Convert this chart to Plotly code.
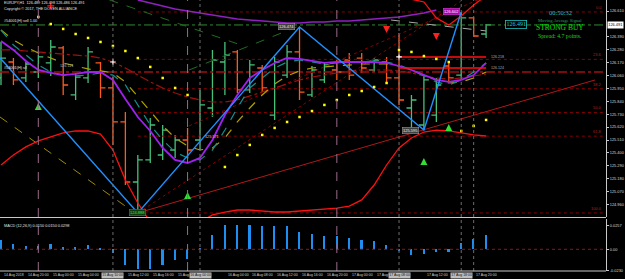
import plotly.graph_objects as go

# ---------------- data ----------------
bar_idx = list(range(40))
open_ = [126.039,126.175,126.039,126.090,126.167,126.295,125.894,126.039,126.167,125.954,
         125.664,125.152,125.340,125.382,125.425,125.510,125.510,125.783,126.175,126.261,
         125.937,126.124,125.723,126.064,126.261,125.894,126.022,126.107,126.192,126.209,
         126.107,126.175,126.039,125.783,125.638,125.723,126.141,126.064,126.551,126.414]
high_ = [126.346,126.209,126.175,126.235,126.363,126.312,126.082,126.303,126.175,126.047,
         125.749,125.382,125.698,125.638,125.553,125.613,125.937,126.278,126.346,126.278,
         126.192,126.150,126.218,126.320,126.474,126.141,126.175,126.192,126.252,126.252,
         126.209,126.218,126.423,125.894,126.064,126.039,126.175,126.602,126.559,126.499]
low_ = [125.979,125.979,126.005,126.039,126.056,125.894,125.851,125.996,125.868,125.468,
        125.126,124.888,125.314,125.340,125.357,125.357,125.425,125.706,125.894,125.911,
        125.911,125.919,125.681,126.039,125.851,125.877,125.996,126.022,126.022,126.082,
        126.090,125.996,125.809,125.613,125.595,125.664,126.005,126.022,126.388,126.380]
close_ = [126.209,126.022,126.158,126.218,126.303,125.979,126.047,126.261,125.954,125.664,
          125.152,125.340,125.638,125.595,125.510,125.425,125.809,126.192,126.235,125.937,
          126.150,125.954,126.175,126.261,125.919,126.107,126.150,126.090,126.064,126.124,
          126.192,126.039,125.851,125.851,126.022,125.979,126.039,126.551,126.397,126.491]

macd_hist = [0.0096,0.0054,0.0032,0.0032,0.0054,0.0021,0.0021,0.0043,0.0011,-0.0043,
             -0.0171,-0.0214,-0.0214,-0.0171,-0.0118,-0.0107,0.0005,0.0150,0.0257,0.0257,
             0.0257,0.0246,0.0246,0.0246,0.0182,0.0161,0.0139,0.0139,0.0118,0.0096,
             0.0086,0.0043,-0.0011,-0.0064,-0.0054,-0.0032,-0.0032,0.0064,0.0107,0.0150]

ma_purple = [126.354,126.278,126.184,126.107,126.082,126.064,126.073,126.090,126.090,126.022,
             125.860,125.706,125.587,125.442,125.340,125.314,125.357,125.510,125.723,125.894,
             126.039,126.107,126.167,126.209,126.201,126.184,126.167,126.175,126.175,126.175,
             126.175,126.167,126.141,126.107,126.064,126.022,126.005,126.022,126.064,126.167]
ma_teal = [126.448,126.320,126.235,126.150,126.090,126.064,126.056,126.064,126.082,126.064,
           125.979,125.809,125.638,125.510,125.408,125.357,125.340,125.425,125.595,125.783,
           125.954,126.039,126.124,126.175,126.192,126.175,126.158,126.167,126.175,126.175,
           126.184,126.175,126.150,126.107,126.056,126.005,125.979,126.022,126.090,126.167]
ma_olive = [126.448,126.363,126.303,126.252,126.209,126.167,126.141,126.116,126.099,126.082,
            126.005,125.877,125.749,125.630,125.527,125.459,125.425,125.442,125.527,125.664,
            125.783,125.894,125.988,126.056,126.099,126.124,126.133,126.141,126.150,126.158,
            126.158,126.158,126.141,126.107,126.064,126.022,125.996,126.005,126.039,126.090]
band_mid = [126.278,126.278,126.269,126.261,126.252,126.244,126.235,126.226,126.209,126.175,
            126.124,126.064,126.005,125.954,125.911,125.877,125.851,125.834,125.834,125.851,
            125.885,125.919,125.954,125.988,126.022,126.047,126.064,126.082,126.099,126.107,
            126.107,126.107,126.099,126.082,126.056,126.039,126.030,126.039,126.056,126.073]
band_upper = [126.76,126.76,126.75,126.75,126.76,126.76,126.76,126.76,126.77,126.80,
              126.85,126.90,126.95,126.98,126.99,126.98,126.96,126.93,126.90,126.88,
              126.86,126.84,126.82,126.80,126.78,126.77,126.76,126.76,126.75,126.75,
              126.74,126.73,126.72,126.71,126.687,126.551,126.491,126.568,126.661,126.74]
band_lower = [125.297,125.382,125.451,125.502,125.536,125.570,125.587,125.587,125.561,125.425,
              125.169,124.973,124.811,124.743,124.726,124.760,124.811,124.871,124.896,124.913,
              124.913,124.905,124.896,124.896,124.905,124.913,124.922,124.930,124.947,124.999,
              125.126,125.297,125.442,125.527,125.578,125.595,125.587,125.570,125.553,125.544]
top_purple_bars = list(range(11, 36))
top_purple = [126.704,126.678,126.653,126.627,126.610,126.593,126.576,126.559,126.542,126.533,
              126.525,126.516,126.508,126.508,126.516,126.516,126.525,126.525,126.533,126.542,
              126.551,126.559,126.576,126.593,126.619]

psar_bars = [3,4,5,6,7,8,9,10,11,12,13,14,15,
             18,19,20,21,22,23,24,25,26,27,28,29,30,31,
             32,33,34,35,36,37,38,39]
psar_vals = [126.559,126.499,126.457,126.414,126.380,126.346,126.312,126.269,126.209,126.133,126.039,125.954,125.894,
             125.280,125.382,125.468,125.553,125.613,125.664,125.706,125.757,125.809,125.851,125.894,125.928,125.962,125.996,
             126.278,126.261,126.226,126.201,126.175,125.587,125.630,125.681]

zigzag_bars = [-1, 11, 24, 34, 37]
zigzag_vals = [126.320, 124.888, 126.474, 125.595, 126.602]
fib_ratios = [0.0, 23.6, 38.2, 50.0, 61.8, 100.0]

up_arrow_bars = [3, 15, 34, 36]
up_arrow_vals = [125.825, 125.067, 125.357, 125.647]
down_arrow_bars = [31, 35]
down_arrow_vals = [126.423, 126.363]
order_mark_bars = [9, 32]
order_mark_vals = [126.175, 126.218]
cursor_mark_bar = [4]
cursor_mark_val = [126.653]

level_lines = [126.218, 126.124]        # red horizontal segments, bars 32..39
order_buy_level = 126.491
order_sl_level = 126.090

day_sep_bars = [3, 15, 27]
vline_bars = [9, 16, 32, 37, 38]
vline_box_bars = [9, 16, 32, 37]
vline_box_text = ["15 Aug 10:00", "16 Aug 00:00", "17 Aug 08:00", "17 Aug 18:00"]

time_label_bars = [0, 2, 4, 6, 10, 12, 14, 18, 20, 22, 24, 26, 28, 30, 34, 38]
time_labels = ["14 Aug 2018", "14 Aug 20:00", "15 Aug 00:00", "15 Aug 04:00",
               "15 Aug 12:00", "15 Aug 16:00", "15 Aug 20:00", "16 Aug 04:00",
               "16 Aug 08:00", "16 Aug 12:00", "16 Aug 16:00", "16 Aug 20:00", "17 Aug 00:00",
               "17 Aug 04:00", "17 Aug 12:00", "17 Aug 20:00"]
price_ticks = [126.610, 126.390, 126.280, 126.170, 126.060, 125.950, 125.840, 125.730,
               125.620, 125.510, 125.400, 125.290, 125.180, 125.070, 124.960, 124.850]
price_tick_text = ["126.610", "126.390", "126.280", "126.170", "126.060", "125.950",
                   "125.840", "125.730", "125.620", "125.510", "125.400", "125.290", "125.180",
                   "125.070", "124.960", "124.850"]
macd_ticks = [0.0257, 0.0, -0.0230]
macd_tick_text = ["0.0257", "0.00", "-0.0230"]

# ---------------- figure ----------------
XR = [-0.08, 48.64]
YR = [124.8536, 126.7038]
MR = [-0.0232, 0.0324]
MAIN_DOM = [0.1993, 1.0]
MACD_DOM = [0.0, 0.1919]
XEND = 48.64

fig = go.Figure()

def line(x, y, color, width=1, dash="solid", yaxis="y", xaxis="x"):
    fig.add_trace(go.Scatter(x=x, y=y, mode="lines", xaxis=xaxis, yaxis=yaxis,
                             line=dict(color=color, width=width, dash=dash),
                             hoverinfo="skip", showlegend=False))

# horizontal order lines
line([XR[0], XEND], [order_buy_level]*2, "#2E8B2E", 1, "dashdot")
line([XR[0], XEND], [order_sl_level]*2, "#A01010", 1.3, "dashdot")

# fibonacci levels
zz_hi, zz_lo = zigzag_vals[4], zigzag_vals[1]
for r in fib_ratios:
    lv = zz_hi - r / 100.0 * (zz_hi - zz_lo)
    line([11, XEND], [lv, lv], "#8B0000", 1, "dot")
    fig.add_annotation(x=0.997, xref="paper", y=lv, yref="y", text=f"{r:.1f}",
                       showarrow=False, xanchor="right", yanchor="bottom",
                       font=dict(size=4, color="#B02020", family="Liberation Sans"))

# diagonal trend lines
line([11, 47.76], [zz_lo, 126.022], "#B01818", 1, "solid")
line([11, 37.12], [zz_lo, 126.704], "#8B0000", 1, "dot")
line([15.12, 38.32], [125.630, 126.704], "#8B0000", 1, "dot")
line([-0.08, 10.32], [125.706, 124.922], "#A08A00", 1, "dash")
line([8.72, 19.52], [126.704, 126.312], "#1E6E1E", 1, "dash")
line([15.12, 23.76], [126.107, 126.474], "#1E6E1E", 1, "dash")
line([31.36, 39.0], [126.533, 126.440], "#A8A8A8", 1, "dash")

# bands and moving averages
line(bar_idx, band_upper, "#FF1010", 1.3)
line(bar_idx, band_lower, "#FF1010", 1.3)
line(bar_idx, band_mid, "#A01010", 1.2, "dashdot")
line(bar_idx, ma_olive, "#B0A000", 1.2, "dash")
line(bar_idx, ma_teal, "#109090", 1.2, "dash")
line(bar_idx, ma_purple, "#A020F0", 1.8)
line(top_purple_bars, top_purple, "#9020C0", 1.5)

for lv in level_lines:
    line([32, 39], [lv, lv], "#FF1010", 1.5)

# price bars
fig.add_trace(go.Ohlc(x=bar_idx, open=open_, high=high_, low=low_, close=close_,
                      increasing=dict(line=dict(color="#46C07A", width=1.3)),
                      decreasing=dict(line=dict(color="#FF5A1E", width=1.3)),
                      tickwidth=0.4, hoverinfo="skip", showlegend=False))

# zigzag
line(zigzag_bars, zigzag_vals, "#1E90FF", 1.4)

# parabolic SAR
fig.add_trace(go.Scatter(x=psar_bars, y=psar_vals, mode="markers",
                         marker=dict(color="#FFFF00", size=2.5, symbol="square"),
                         hoverinfo="skip", showlegend=False))
# arrows and order marks
fig.add_trace(go.Scatter(x=up_arrow_bars, y=up_arrow_vals, mode="markers",
                         marker=dict(color="#33DD33", size=7, symbol="arrow-up"),
                         hoverinfo="skip", showlegend=False))
fig.add_trace(go.Scatter(x=down_arrow_bars, y=down_arrow_vals, mode="markers",
                         marker=dict(color="#FF2020", size=7, symbol="arrow-down"),
                         hoverinfo="skip", showlegend=False))
fig.add_trace(go.Scatter(x=order_mark_bars, y=order_mark_vals, mode="markers",
                         marker=dict(color="#FFFFFF", size=4, symbol="cross-thin",
                                     line=dict(color="#FFFFFF", width=1.2)),
                         hoverinfo="skip", showlegend=False))
fig.add_trace(go.Scatter(x=cursor_mark_bar, y=cursor_mark_val, mode="markers",
                         marker=dict(color="#FF2020", size=5, symbol="cross-thin",
                                     line=dict(color="#FF2020", width=1.3)),
                         hoverinfo="skip", showlegend=False))

# MACD panel
fig.add_trace(go.Bar(x=bar_idx, y=macd_hist, xaxis="x2", yaxis="y2", width=0.13,
                     marker=dict(color="#1E8FF0", line=dict(width=0)),
                     hoverinfo="skip", showlegend=False))
line([XR[0], XEND], [0, 0], "#A01010", 1, "dot", yaxis="y2", xaxis="x2")

# vertical separators
shapes = []
for b in day_sep_bars:
    for yr in ["y domain", "y2 domain"]:
        shapes.append(dict(type="line", xref="x", yref=yr, x0=b, x1=b, y0=0, y1=1,
                           line=dict(color="#9A6A8A", width=1, dash="dash")))
for b in vline_bars:
    for yr in ["y domain", "y2 domain"]:
        shapes.append(dict(type="line", xref="x", yref=yr, x0=b, x1=b, y0=0, y1=1,
                           line=dict(color="#6E6E6E", width=1, dash="dot")))
# panel frame
sep_y = (271 - 217.5) / 271
shapes.append(dict(type="line", xref="paper", yref="paper", x0=0, x1=1, y0=sep_y, y1=sep_y,
                   line=dict(color="#C8C8C8", width=1)))
shapes.append(dict(type="line", xref="paper", yref="paper", x0=0, x1=1, y0=0, y1=0,
                   line=dict(color="#C8C8C8", width=1)))
fig.update_layout(shapes=shapes)

# ---------------- texts ----------------
def txt(x, y, s, color, size, xref="paper", yref="paper", xanchor="left", yanchor="middle",
        family="Liberation Sans", **kw):
    fig.add_annotation(x=x, y=y, xref=xref, yref=yref, text=s, showarrow=False,
                       xanchor=xanchor, yanchor=yanchor,
                       font=dict(size=size, color=color, family=family), **kw)

H = 271.0
def py(px):  # pixel row -> paper coordinate
    return 1 - px / H

txt(0.004, py(3), "EURJPY,H1  126.489 126.498 126.486 126.491", "#E0E0E0", 3.8)
txt(0.004, py(9), "Copyright © 2017, THE DOYEN ALLIANCE", "#E0E0E0", 3.8)
txt(0.004, order_buy_level, "#54001(H) sell 1.00", "#E0E0E0", 3.8, yref="y", yanchor="bottom")
txt(0.004, order_sl_level, "#54001(H) s/l", "#E0E0E0", 3.8, yref="y", yanchor="bottom")
txt(4.6, 126.141, "126.121", "#B0B0B0", 3.8, xref="x", yref="y")
txt(16.2, 125.536, "125.571", "#D0D0D0", 3.8, xref="x", yref="y")
txt(39.2, level_lines[0], "126.218", "#B0B0B0", 3.6, xref="x", yref="y")
txt(39.2, level_lines[1], "126.124", "#B0B0B0", 3.6, xref="x", yref="y")

# zigzag value boxes
txt(11, zigzag_vals[1], f"{zigzag_vals[1]:.3f}", "#50E050", 4, xref="x", yref="y",
    xanchor="center", bgcolor="#0E3A0E", bordercolor="#3A9A3A", borderwidth=0.5, borderpad=0.5)
txt(23.6, zigzag_vals[2], f"{zigzag_vals[2]:.3f}", "#F0F0F0", 4, xref="x", yref="y",
    xanchor="right", bgcolor="#404040", bordercolor="#A0A0A0", borderwidth=0.5, borderpad=0.5)
txt(33.6, zigzag_vals[3], f"{zigzag_vals[3]:.3f}", "#F0F0F0", 4, xref="x", yref="y",
    xanchor="right", bgcolor="#404040", bordercolor="#A0A0A0", borderwidth=0.5, borderpad=0.5)
txt(36.9, zigzag_vals[4], f"{zigzag_vals[4]:.3f}", "#FFFFFF", 4, xref="x", yref="y",
    xanchor="right", bgcolor="#B000B0", bordercolor="#E040E0", borderwidth=0.5, borderpad=0.5)

# signal panel
cx = 563 / 609
txt(cx, py(12.5), "00:50:32", "#20C0C0", 6.5, xanchor="center", family="Liberation Serif")
txt(cx, py(20), "Moving Average Signal", "#2EA060", 4.6, xanchor="center", family="Liberation Serif")
txt(cx, py(27.5), "STRONG BUY", "#00E000", 7.5, xanchor="center", family="Liberation Serif")
txt(cx, py(35.5), "Spread: 4.7 points.", "#20D020", 5.8, xanchor="center", family="Liberation Serif")
txt(518.5 / 609, order_buy_level, "126.491", "#20D0D0", 6, yref="y", xanchor="center",
    family="Liberation Serif", bordercolor="#20C0C0", borderwidth=0.8, borderpad=0.6, bgcolor="#000000")

# current price box on the axis
txt(1.002, order_buy_level, "126.491", "#000000", 3.9, yref="y", bgcolor="#FFFFFF", borderpad=0.3)

# MACD title
txt(0.004, 0.180, "MACD (12,26,9) 0.0150 0.0150 0.0298", "#E0E0E0", 3.8, yanchor="top")

# time axis labels
for b, s in zip(time_label_bars, time_labels):
    txt(b + 0.05, -4.2 / H, s, "#D0D0D0", 3.5, xref="x2", xanchor="left")
for b, s in zip(vline_box_bars, vline_box_text):
    txt(b, -4.2 / H, s, "#101010", 3.5, xref="x2", xanchor="center", bgcolor="#BDBDBD",
        borderpad=0.3)

axis_common = dict(showgrid=False, zeroline=False, color="#C8C8C8")
fig.update_layout(
    width=625, height=279,
    margin=dict(l=0, r=16, t=0, b=8),
    paper_bgcolor="#000000", plot_bgcolor="#000000",
    showlegend=False, bargap=0,
    xaxis=dict(domain=[0, 1], range=XR, anchor="y", showticklabels=False, ticks="",
               rangeslider=dict(visible=False), **axis_common),
    xaxis2=dict(domain=[0, 1], range=XR, anchor="y2", matches="x", showticklabels=False,
                ticks="", **axis_common),
    yaxis=dict(domain=MAIN_DOM, range=YR, side="right", tickvals=price_ticks,
               ticktext=price_tick_text, ticks="outside", ticklen=2, tickcolor="#C8C8C8",
               tickfont=dict(size=3.9, color="#D8D8D8", family="Liberation Sans"),
               showline=True, linecolor="#C8C8C8", linewidth=1, anchor="x", **axis_common),
    yaxis2=dict(domain=MACD_DOM, range=MR, side="right", tickvals=macd_ticks,
                ticktext=macd_tick_text, ticks="outside", ticklen=2, tickcolor="#C8C8C8",
                tickfont=dict(size=3.9, color="#D8D8D8", family="Liberation Sans"),
                showline=True, linecolor="#C8C8C8", linewidth=1, anchor="x2", **axis_common),
)

fig.write_html("out.html")
